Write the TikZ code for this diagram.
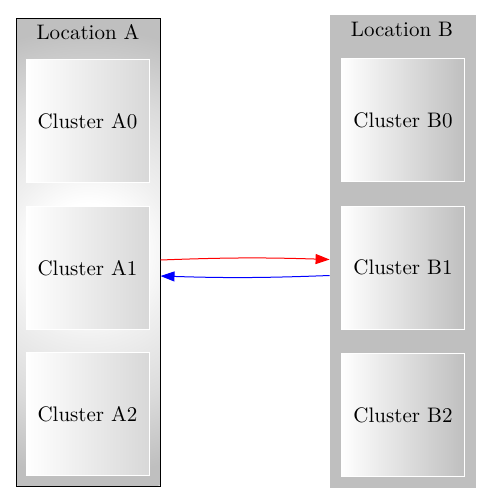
\documentclass[tikz,border=0pt]{standalone}
\usetikzlibrary{arrows.meta,calc}
\definecolor{clgrayA}{HTML}{D8D8D8}
\definecolor{clgrayB}{HTML}{BFBFBF}
\pgfdeclareradialshading{locshade}{\pgfpoint{0bp}{0bp}}{color(0bp)=(white); color(5bp)=(white); color(9bp)=(black!6); color(16bp)=(black!14); color(23bp)=(clgrayB); color(50bp)=(clgrayB)}
\tikzset{
  txt/.style={font=\fontsize{10.5}{12}\selectfont},
  cluster/.style={txt, draw=white, line width=0.5pt, inner sep=0pt,
    minimum width=61.5pt, minimum height=61.5pt, left color=white},
  link/.style={line width=0.5pt, -{Triangle[length=7pt,width=5pt]}}
}
\begin{document}
\begin{tikzpicture}[x=0.5pt,y=-0.5pt]
\useasboundingbox[fill=white] (0,0) rectangle (492,504);
% locations
\node[draw=black, line width=0.5pt, inner sep=0pt, minimum width=72pt, minimum height=234pt,
  path picture={\shade[shading=locshade] (path picture bounding box.center) circle (122pt);}]
  (locA) at (88,252) {};
\node[fill=clgrayB, inner sep=0pt, minimum width=73pt, minimum height=236.5pt] (locB) at (403,251.5) {};
\node[txt] (titleA) at (88,32) {Location A};
\node[txt] (titleB) at (402,29) {Location B};
% clusters
\node[cluster, right color=clgrayA] (A0) at (87.5,121) {Cluster A0};
\node[cluster, right color=clgrayA] (A1) at (87.5,268) {Cluster A1};
\node[cluster, right color=clgrayA] (A2) at (87.5,414) {Cluster A2};
\node[cluster, right color=clgrayB] (B0) at (403,120) {Cluster B0};
\node[cluster, right color=clgrayB] (B1) at (403,267.5) {Cluster B1};
\node[cluster, right color=clgrayB] (B2) at (403,415) {Cluster B2};
% links
\coordinate (aOut) at ($(A1.east -| locA.east)+(0,-8)$);
\coordinate (aIn) at ($(A1.east -| locA.east)+(0,8)$);
\coordinate (bIn) at ($(B1.west -| locB.west)+(0,-8)$);
\coordinate (bOut) at ($(B1.west -| locB.west)+(0,8)$);
\draw[link, red] (aOut) to[bend left=2] (bIn);
\draw[link, blue] (bOut) to[bend left=2] (aIn);
\end{tikzpicture}
\end{document}
